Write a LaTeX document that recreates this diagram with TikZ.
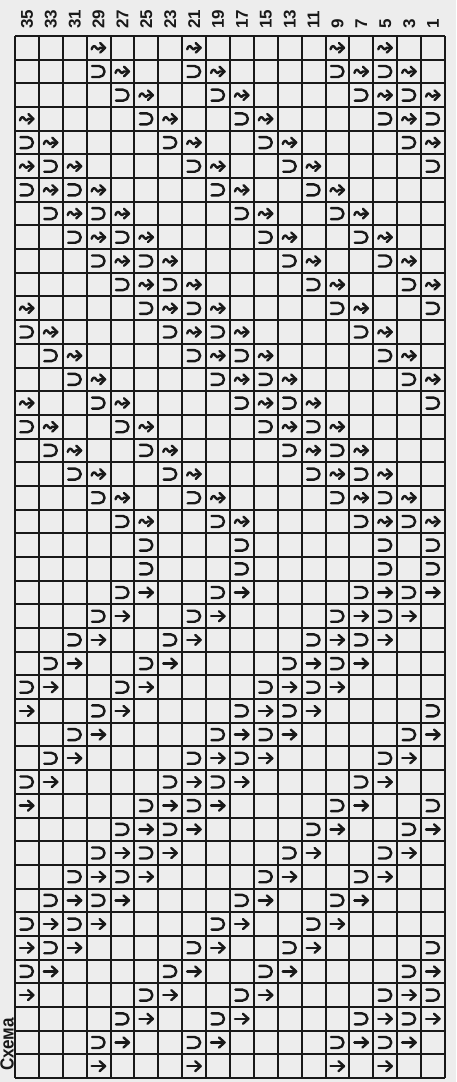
\documentclass[tikz,border=0pt]{standalone}
\usepackage{fontspec}
\setmainfont{Liberation Sans}
\usepackage{tikz}

\definecolor{paper}{gray}{0.93}
\definecolor{ink}{gray}{0.1}
\newcommand{\cellw}{23.889}
\newcommand{\cellh}{23.682}

\tikzset{
  gridline/.style={ink, line width=2pt},
  symbol/.style={ink, line width=2.4pt, line cap=round, line join=round},
  rowlabel/.style={rotate=90, anchor=west, inner sep=0pt, text=ink,
    font=\bfseries\fontsize{17}{17}\selectfont},
  yarnover/.pic={
    \draw[symbol] (-6.5,5.5) -- (0.5,5.5) arc[start angle=90, end angle=-90, radius=5.5] -- (-6.5,-5.5);
  },
  straightarrow/.pic={
    \draw[symbol] (-7,0) -- (6,0);
    \draw[symbol] (1,5) -- (6.5,0) -- (1,-5);
  },
  wavyarrow/.pic={
    \draw[symbol] (-7,-1.5) .. controls (-6,2.5) and (-3.5,2.5) .. (-2.5,0)
      .. controls (-1.5,-2.5) and (0.5,-2) .. (1.5,0) -- (6,0);
    \draw[symbol] (1.5,4.8) -- (6.5,0) -- (1.5,-4.8);
  }
}

\begin{document}
\begin{tikzpicture}[x=1pt,y=1pt]
    \useasboundingbox (0,0) rectangle (456,1082);
    \fill[paper] (0,0) rectangle (456,1082);

    % Title
    \node[rotate=90, xscale=0.9, anchor=base east, inner sep=0pt, text=ink,
      font=\bfseries\fontsize{19}{19}\selectfont] (title) at (13.6,64) {Схема};

    % Row numbers
    \foreach \c [evaluate=\c as \n using int(37-2*\c)] in {1,...,18}
        \node[rowlabel] (lbl\n) at ({15+(\c-0.5)*\cellw},1053) {\n};

    % Grid
    \foreach \i in {0,...,18}
        \draw[gridline] ({15+\i*\cellw},4) -- ({15+\i*\cellw},1046);
    \foreach \j in {0,...,44}
        \draw[gridline] (15,{1046-\j*\cellh}) -- (445,{1046-\j*\cellh});

    % Yarn overs
    \foreach \r/\cols in {2/{4,8,14,16}, 3/{5,9,15,17}, 4/{6,10,16,18}, 5/{1,7,11,17},
        6/{2,8,12,18}, 7/{1,3,9,13}, 8/{2,4,10,14}, 9/{3,5,11,15}, 10/{4,6,12,16},
        11/{5,7,13,17}, 12/{6,8,14,18}, 13/{1,7,9,15}, 14/{2,8,10,16}, 15/{3,9,11,17},
        16/{4,10,12,18}, 17/{1,5,11,13}, 18/{2,6,12,14}, 19/{3,7,13,15}, 20/{4,8,14,16},
        21/{5,9,15,17}, 22/{6,10,16,18}, 23/{6,10,16,18}, 24/{5,9,15,17}, 25/{4,8,14,16},
        26/{3,7,13,15}, 27/{2,6,12,14}, 28/{1,5,11,13}, 29/{4,10,12,18}, 30/{3,9,11,17},
        31/{2,8,10,16}, 32/{1,7,9,15}, 33/{6,8,14,18}, 34/{5,7,13,17}, 35/{4,6,12,16},
        36/{3,5,11,15}, 37/{2,4,10,14}, 38/{1,3,9,13}, 39/{2,8,12,18}, 40/{1,7,11,17},
        41/{6,10,16,18}, 42/{5,9,15,17}, 43/{4,8,14,16}}
        \foreach \c in \cols
            \pic at ({15+(\c-0.5)*\cellw},{1046-(\r-0.5)*\cellh}) {yarnover};

    % Wavy arrows (upper part)
    \foreach \r/\cols in {1/{4,8,14,16}, 2/{5,9,15,17}, 3/{6,10,16,18}, 4/{1,7,11,17},
        5/{2,8,12,18}, 6/{1,3,9,13}, 7/{2,4,10,14}, 8/{3,5,11,15}, 9/{4,6,12,16},
        10/{5,7,13,17}, 11/{6,8,14,18}, 12/{1,7,9,15}, 13/{2,8,10,16}, 14/{3,9,11,17},
        15/{4,10,12,18}, 16/{1,5,11,13}, 17/{2,6,12,14}, 18/{3,7,13,15}, 19/{4,8,14,16},
        20/{5,9,15,17}, 21/{6,10,16,18}}
        \foreach \c in \cols
            \pic at ({15+(\c-0.5)*\cellw},{1046-(\r-0.5)*\cellh}) {wavyarrow};

    % Straight arrows (lower part)
    \foreach \r/\cols in {24/{6,10,16,18}, 25/{5,9,15,17}, 26/{4,8,14,16}, 27/{3,7,13,15},
        28/{2,6,12,14}, 29/{1,5,11,13}, 30/{4,10,12,18}, 31/{3,9,11,17}, 32/{2,8,10,16},
        33/{1,7,9,15}, 34/{6,8,14,18}, 35/{5,7,13,17}, 36/{4,6,12,16}, 37/{3,5,11,15},
        38/{2,4,10,14}, 39/{1,3,9,13}, 40/{2,8,12,18}, 41/{1,7,11,17}, 42/{6,10,16,18},
        43/{5,9,15,17}, 44/{4,8,14,16}}
        \foreach \c in \cols
            \pic at ({15+(\c-0.5)*\cellw},{1046-(\r-0.5)*\cellh}) {straightarrow};
\end{tikzpicture}
\end{document}
